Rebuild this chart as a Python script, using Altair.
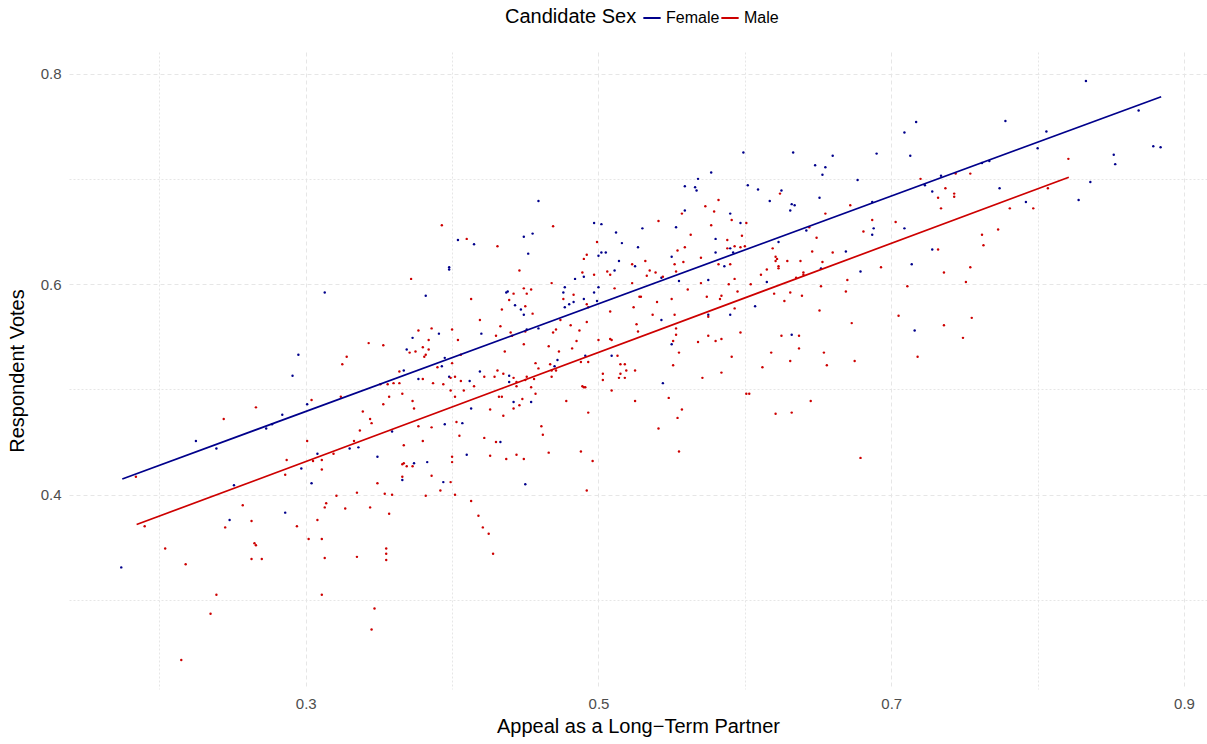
import altair as alt
import pandas as pd

# Candidate sex categories and colours
sexes = ["Female", "Male"]
sex_colors = ["#00008B", "#CD0000"]

# Female candidates: (appeal as long-term partner, respondent votes)
female_points = [
    (0.459,0.679),(0.404,0.642),(0.415,0.638),(0.449,0.645),(0.455,0.648),(0.452,0.629),(0.497,0.658),
    (0.502,0.657),(0.512,0.649),(0.516,0.639),(0.527,0.635),(0.500,0.627),(0.502,0.630),(0.505,0.630),
    (0.599,0.725),(0.633,0.725),(0.660,0.722),(0.648,0.713),(0.655,0.711),(0.653,0.704),(0.690,0.724),
    (0.709,0.744),(0.717,0.754),(0.713,0.722),(0.723,0.694),(0.677,0.699),(0.577,0.706),(0.568,0.700),
    (0.559,0.693),(0.566,0.692),(0.567,0.689),(0.602,0.694),(0.609,0.690),(0.617,0.679),(0.625,0.689),
    (0.632,0.676),(0.634,0.675),(0.631,0.670),(0.651,0.682),(0.687,0.678),(0.688,0.653),(0.687,0.647),
    (0.709,0.653),(0.642,0.651),(0.669,0.631),(0.623,0.640),(0.559,0.670),(0.530,0.653),(0.553,0.654),
    (0.590,0.667),(0.597,0.658),(0.580,0.643),(0.590,0.634),(0.592,0.630),(0.580,0.630),(0.550,0.626),
    (0.833,0.793),(0.869,0.765),(0.778,0.755),(0.806,0.745),(0.800,0.729),(0.879,0.731),(0.884,0.730),
    (0.852,0.723),(0.853,0.714),(0.836,0.697),(0.828,0.680),(0.792,0.678),(0.774,0.691),(0.762,0.715),
    (0.767,0.717),(0.734,0.703),(0.728,0.688),(0.728,0.633),
    (0.313,0.592),(0.295,0.533),(0.291,0.513),(0.301,0.486),(0.284,0.476),(0.277,0.467),(0.273,0.463),
    (0.225,0.451),(0.239,0.444),(0.308,0.439),(0.330,0.444),(0.297,0.425),
    (0.304,0.411),(0.251,0.409),(0.286,0.383),(0.248,0.376),(0.174,0.331),
    (0.394,0.412),(0.450,0.410),
    (0.586,0.617),(0.543,0.606),(0.555,0.603),(0.575,0.604),(0.615,0.602),(0.652,0.615),(0.679,0.612),
    (0.714,0.619),(0.716,0.556),(0.607,0.579),(0.575,0.571),(0.590,0.571),(0.543,0.566),(0.550,0.543),
    (0.544,0.506),(0.632,0.552),
    (0.398,0.616),(0.398,0.614),(0.514,0.622),(0.525,0.617),(0.511,0.613),(0.490,0.607),(0.484,0.605),
    (0.477,0.597),(0.500,0.597),(0.476,0.592),(0.497,0.592),(0.483,0.583),(0.480,0.581),(0.490,0.586),
    (0.477,0.578),(0.499,0.584),(0.437,0.592),(0.438,0.593),(0.382,0.589),(0.443,0.580),(0.447,0.576),
    (0.449,0.571),(0.459,0.558),(0.451,0.557),(0.391,0.553),(0.420,0.553),(0.373,0.549),(0.369,0.538),
    (0.395,0.530),(0.509,0.532),(0.491,0.532),(0.472,0.528),(0.470,0.522),(0.393,0.522),(0.367,0.518),
    (0.419,0.517),(0.439,0.513),(0.398,0.512),(0.377,0.510),(0.412,0.508),(0.439,0.507),(0.442,0.488),
    (0.454,0.488),(0.413,0.482),(0.395,0.467),(0.407,0.468),(0.359,0.460),(0.336,0.445),(0.433,0.450),
    (0.349,0.436),(0.410,0.438),(0.374,0.430),(0.383,0.431),(0.366,0.414),
]

# Male candidates: (appeal as long-term partner, respondent votes)
male_points = [
    (0.393,0.656),(0.410,0.643),(0.431,0.636),(0.469,0.655),(0.499,0.640),(0.492,0.628),(0.490,0.624),
    (0.720,0.700),(0.624,0.686),(0.655,0.667),(0.672,0.675),(0.687,0.661),(0.681,0.650),(0.703,0.659),
    (0.644,0.654),(0.649,0.644),(0.646,0.631),(0.660,0.630),(0.619,0.634),(0.621,0.626),(0.622,0.624),
    (0.582,0.680),(0.573,0.674),(0.579,0.669),(0.557,0.667),(0.541,0.660),(0.563,0.647),(0.577,0.656),
    (0.591,0.661),(0.601,0.658),(0.598,0.646),(0.588,0.642),(0.588,0.634),(0.593,0.636),(0.597,0.635),
    (0.600,0.636),(0.554,0.632),(0.559,0.635),(0.570,0.625),
    (0.821,0.719),(0.807,0.691),(0.797,0.672),(0.781,0.672),(0.754,0.705),(0.744,0.705),(0.737,0.691),
    (0.732,0.682),(0.743,0.686),(0.743,0.683),(0.734,0.672),(0.773,0.652),(0.762,0.647),(0.763,0.637),
    (0.732,0.633),
    (0.328,0.531),(0.325,0.524),(0.324,0.493),(0.304,0.490),(0.266,0.483),(0.244,0.472),(0.301,0.451),
    (0.319,0.439),(0.287,0.433),(0.305,0.432),(0.311,0.433),(0.311,0.424),(0.286,0.419),(0.184,0.417),
    (0.321,0.399),(0.314,0.392),(0.313,0.388),(0.327,0.387),(0.257,0.390),(0.263,0.375),(0.245,0.369),
    (0.294,0.370),(0.308,0.376),(0.302,0.358),(0.311,0.358),(0.265,0.354),(0.266,0.352),(0.263,0.339),
    (0.270,0.339),(0.313,0.340),(0.190,0.370),(0.204,0.349),(0.218,0.334),(0.239,0.305),(0.311,0.305),
    (0.235,0.287),(0.215,0.243),
    (0.349,0.411),(0.399,0.412),(0.335,0.402),(0.354,0.401),(0.359,0.400),(0.382,0.399),(0.392,0.404),
    (0.402,0.400),(0.492,0.404),(0.413,0.394),(0.344,0.388),(0.357,0.382),(0.418,0.380),(0.421,0.369),
    (0.425,0.363),(0.428,0.344),(0.355,0.349),(0.355,0.344),(0.355,0.338),(0.335,0.341),(0.347,0.292),
    (0.345,0.272),
    (0.754,0.616),(0.736,0.611),(0.751,0.602),(0.755,0.568),(0.736,0.561),(0.749,0.549),
    (0.532,0.622),(0.552,0.619),(0.558,0.621),(0.582,0.619),(0.590,0.619),(0.535,0.613),(0.539,0.611),
    (0.553,0.612),(0.533,0.608),(0.544,0.607),(0.561,0.595),(0.570,0.601),(0.589,0.600),(0.593,0.605),
    (0.595,0.593),(0.604,0.600),(0.611,0.609),(0.615,0.614),(0.621,0.622),(0.623,0.617),(0.623,0.615),
    (0.629,0.622),(0.638,0.622),(0.653,0.621),(0.640,0.611),(0.640,0.609),(0.635,0.606),(0.693,0.616),
    (0.711,0.598),(0.670,0.604),(0.669,0.593),(0.652,0.598),(0.620,0.591),(0.631,0.592),(0.639,0.589),
    (0.627,0.584),(0.651,0.575),(0.673,0.563),(0.705,0.570),(0.718,0.531),(0.675,0.527),(0.654,0.535),
    (0.656,0.523),(0.574,0.588),(0.584,0.589),(0.583,0.586),(0.593,0.577),(0.575,0.569),(0.597,0.554),
    (0.529,0.588),(0.540,0.583),(0.550,0.586),(0.537,0.571),(0.552,0.571),(0.553,0.558),(0.553,0.552),
    (0.551,0.546),(0.555,0.535),(0.551,0.523),(0.568,0.545),(0.575,0.551),(0.580,0.546),(0.584,0.548),
    (0.591,0.531),(0.584,0.516),(0.571,0.511),(0.548,0.492),(0.557,0.481),(0.554,0.473),(0.541,0.463),
    (0.555,0.441),(0.601,0.496),(0.603,0.496),(0.625,0.551),(0.637,0.551),(0.637,0.539),(0.618,0.535),
    (0.631,0.527),(0.612,0.521),(0.645,0.489),(0.621,0.477),(0.632,0.478),(0.679,0.435),
    (0.372,0.605),(0.446,0.613),(0.523,0.619),(0.506,0.612),(0.508,0.609),(0.489,0.611),(0.497,0.609),
    (0.468,0.601),(0.523,0.601),(0.528,0.588),(0.511,0.596),(0.483,0.590),(0.476,0.586),(0.492,0.581),
    (0.493,0.578),(0.508,0.574),(0.524,0.578),(0.442,0.591),(0.449,0.596),(0.454,0.595),(0.451,0.591),
    (0.413,0.586),(0.439,0.585),(0.450,0.579),(0.455,0.572),(0.434,0.576),(0.419,0.566),(0.474,0.566),
    (0.492,0.564),(0.433,0.560),(0.481,0.561),(0.471,0.557),(0.487,0.556),(0.469,0.554),(0.450,0.555),
    (0.440,0.554),(0.377,0.556),(0.386,0.558),(0.400,0.557),(0.430,0.551),(0.441,0.551),(0.526,0.562),
    (0.527,0.555),(0.508,0.548),(0.509,0.547),(0.500,0.547),(0.485,0.546),(0.384,0.547),(0.404,0.547),
    (0.343,0.544),(0.353,0.542),(0.449,0.543),(0.466,0.541),(0.482,0.539),(0.380,0.540),(0.384,0.538),
    (0.371,0.535),(0.375,0.536),(0.382,0.533),(0.381,0.531),(0.436,0.536),(0.473,0.536),(0.406,0.533),
    (0.513,0.532),(0.488,0.526),(0.493,0.526),(0.457,0.525),(0.467,0.524),(0.515,0.524),(0.518,0.524),
    (0.400,0.525),(0.459,0.520),(0.471,0.518),(0.468,0.518),(0.519,0.518),(0.525,0.518),(0.390,0.521),
    (0.364,0.517),(0.431,0.518),(0.435,0.515),(0.515,0.515),(0.503,0.515),(0.402,0.512),(0.422,0.512),
    (0.429,0.512),(0.451,0.512),(0.468,0.512),(0.518,0.511),(0.514,0.511),(0.380,0.510),(0.399,0.511),
    (0.442,0.511),(0.456,0.510),(0.503,0.509),(0.406,0.508),(0.450,0.509),(0.444,0.507),(0.351,0.505),
    (0.356,0.505),(0.360,0.506),(0.364,0.506),(0.387,0.506),(0.394,0.505),(0.415,0.503),(0.444,0.503),
    (0.454,0.502),(0.489,0.503),(0.490,0.502),(0.491,0.502),(0.399,0.499),(0.408,0.499),(0.509,0.499),
    (0.457,0.496),(0.366,0.496),(0.357,0.493),(0.402,0.493),(0.432,0.493),(0.434,0.493),(0.448,0.491),
    (0.478,0.489),(0.525,0.489),(0.373,0.489),(0.353,0.486),(0.446,0.485),(0.374,0.482),(0.426,0.481),
    (0.442,0.482),(0.339,0.479),(0.493,0.478),(0.435,0.475),(0.344,0.472),(0.345,0.468),(0.403,0.469),
    (0.461,0.465),(0.377,0.465),(0.386,0.464),(0.337,0.461),(0.462,0.457),(0.405,0.456),(0.422,0.454),
    (0.380,0.451),(0.333,0.451),(0.430,0.450),(0.367,0.447),(0.466,0.440),(0.488,0.441),(0.426,0.437),
    (0.444,0.438),(0.400,0.436),(0.437,0.434),(0.449,0.434),(0.496,0.432),(0.400,0.431),(0.367,0.430),
    (0.366,0.429),(0.369,0.427),(0.373,0.427),(0.366,0.417),(0.386,0.418),
]

# Fitted linear trend lines (endpoints)
female_fit = [(0.1747, 0.4150), (0.8844, 0.7780)]
male_fit = [(0.1845, 0.3717), (0.8213, 0.7016)]

# Axis grid positions and labelled ticks
x_grid = [0.2, 0.3, 0.4, 0.5, 0.6, 0.7, 0.8, 0.9]
y_grid = [0.3, 0.4, 0.5, 0.6, 0.7, 0.8]

rows = [{"appeal": a, "votes": v, "sex": "Female"} for a, v in female_points]
rows += [{"appeal": a, "votes": v, "sex": "Male"} for a, v in male_points]
points_df = pd.DataFrame(rows)

fit_rows = [{"appeal": a, "votes": v, "sex": "Female"} for a, v in female_fit]
fit_rows += [{"appeal": a, "votes": v, "sex": "Male"} for a, v in male_fit]
fit_df = pd.DataFrame(fit_rows)

FONT = "Liberation Sans"

x_enc = alt.X(
    "appeal:Q",
    title="Appeal as a Long−Term Partner",
    scale=alt.Scale(domain=[0.1383, 0.9157], nice=False, zero=False),
    axis=alt.Axis(
        values=x_grid,
        labelExpr="round(datum.value*10) % 2 == 1 ? format(datum.value, '.1f') : ''",
        gridDash={"condition": {"test": "round(datum.value*10) % 2 == 1", "value": [4, 3]}, "value": [2, 2]},
        labelPadding=7,
        titlePadding=5,
        labelFlush=False,
        labelOverlap=False,
    ),
)
y_enc = alt.Y(
    "votes:Q",
    title="Respondent Votes",
    scale=alt.Scale(domain=[0.2155, 0.8205], nice=False, zero=False),
    axis=alt.Axis(
        values=y_grid,
        labelExpr="round(datum.value*10) % 2 == 0 ? format(datum.value, '.1f') : ''",
        gridDash={"condition": {"test": "round(datum.value*10) % 2 == 0", "value": [4, 3]}, "value": [2, 2]},
        labelPadding=8,
        titlePadding=13,
        labelFlush=False,
        labelOverlap=False,
    ),
)
color_enc = alt.Color(
    "sex:N",
    scale=alt.Scale(domain=sexes, range=sex_colors),
    legend=alt.Legend(
        title="Candidate Sex",
        orient="none",
        legendX=436,
        legendY=-44,
        direction="horizontal",
        titleOrient="left",
        symbolType="stroke",
        symbolStrokeWidth=2,
        symbolSize=300,
        titleFontSize=20,
        titleFont=FONT,
        titleFontWeight="normal",
        titleColor="#000000",
        titlePadding=5,
        labelFontSize=16,
        labelFont=FONT,
        labelColor="#000000",
        labelOffset=4,
        columnPadding=-3,
    ),
)

points = alt.Chart(points_df).mark_circle(size=6, opacity=1).encode(
    x=x_enc, y=y_enc, color=color_enc
)
lines = alt.Chart(fit_df).mark_line(strokeWidth=1.7).encode(
    x=x_enc, y=y_enc, color=color_enc, detail="sex:N"
)

chart = (
    alt.layer(points, lines)
    .properties(
        width=1138,
        height=637,
        autosize=alt.AutoSizeParams(type="none"),
        padding={"left": 69, "top": 52, "right": 0, "bottom": 55},
        background="white",
    )
    .configure_view(stroke=None)
    .configure_axis(
        domain=False,
        ticks=False,
        grid=True,
        gridColor="#e6e6e6",
        gridWidth=1,
        labelFont=FONT,
        labelFontSize=15,
        labelColor="#4d4d4d",
        titleFont=FONT,
        titleFontSize=20,
        titleFontWeight="normal",
        titleColor="#000000",
    )
)

chart.save("out.html", embed_options={"renderer": "svg", "actions": False})
